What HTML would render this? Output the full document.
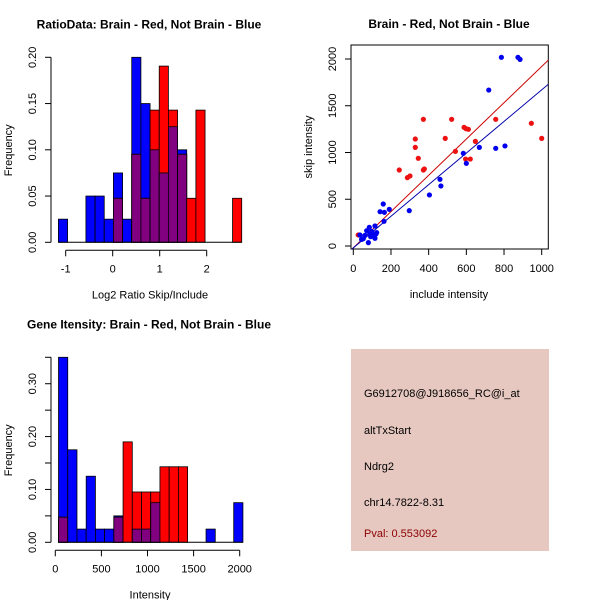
<!DOCTYPE html>
<html><head><meta charset="utf-8"><style>
body{margin:0;background:#fff}
svg{display:block;font-family:"Liberation Sans",sans-serif}
</style></head><body>
<svg id="s" width="600" height="600" xmlns="http://www.w3.org/2000/svg">
<rect width="600" height="600" fill="#fff"/>
<g id="p1"></g>
<g id="p2"></g>
<g id="p3"></g>
<g>
<rect x="351" y="349" width="198" height="202" fill="#E6C8C0"/>
<text x="364" y="397" font-size="11">G6912708@J918656_RC@i_at</text>
<text x="364" y="434" font-size="11">altTxStart</text>
<text x="364" y="470" font-size="11">Ndrg2</text>
<text x="364" y="506" font-size="11">chr14.7822-8.31</text>
<text x="364" y="537" font-size="11" fill="#8B0000">Pval: 0.553092</text>
</g>
</svg>
<script>
// Ratio histogram data
const ratioBreakStart = -1.155, ratioBinWidth = 0.195;
const ratioBlue = [0.025,0,0,0.05,0.05,0.025,0.075,0.025,0.2,0.15,0.1,0.075,0.125,0.1,0,0,0,0,0,0];
const ratioRed  = [0,0,0,0,0,0,0.0476,0,0.0952,0.0476,0.1429,0.1905,0.1429,0.0952,0.0476,0.1429,0,0,0,0.0476];
const ratioXTicks = [-1,0,1,2];
const ratioYTicks = [0,0.05,0.10,0.15,0.20];
const ratioYLabels = ["0.00","0.05","0.10","0.15","0.20"];
// Intensity histogram data
const intBreakStart = 35, intBinWidth = 100;
const intBlue = [0.35,0.175,0.025,0.125,0.025,0.025,0.05,0,0.025,0.025,0.075,0,0,0,0,0,0.025,0,0,0.075];
const intRed  = [0.0476,0,0,0,0,0,0.0476,0.19,0.0952,0.0952,0.0952,0.1429,0.1429,0.1429,0,0,0,0,0,0];
const intXTicks = [0,500,1000,1500,2000];
const intYTicks = [0,0.05,0.1,0.15,0.2,0.25,0.3,0.35];
const intYLabels = ["0.00","","0.10","","0.20","","0.30",""];
// Scatter data
const redX = [26,244,287,301,329,329,345,372,372,377,488,522,542,588,598,611,596,621,648,756,945,1000];
const redY = [118,813,731,749,1144,1055,938,1355,813,824,1151,1355,1012,1269,1255,1248,930,930,1119,1355,1312,1151];
const blueX = [786,874,885,719,584,600,669,756,805,460,465,404,297,159,142,165,191,163,85,115,62,71,88,103,120,124,44,80,115,35,53,92,97];
const blueY = [2018,2018,1996,1668,991,884,1055,1045,1070,713,642,546,378,449,367,360,392,264,200,214,114,164,135,121,128,143,71,36,82,118,78,100,157];
const redFit = [-20, 1.94];
const blueFit = [-20, 1.69];
const scXTicks = [0,200,400,600,800,1000];
const scYTicks = [0,500,1000,1500,2000];

const NS="http://www.w3.org/2000/svg";
function mk(parent,tag,attrs,text){const e=document.createElementNS(NS,tag);for(const k in attrs)e.setAttribute(k,attrs[k]);if(text!==undefined)e.textContent=text;parent.appendChild(e);return e;}

function hist(g,o){
  const sx=v=>o.x0px+(v-o.x0v)*o.xs, sy=v=>o.y0px-v*o.ys;
  const n=o.blue.length;
  for(let i=0;i<n;i++){
    const a=sx(o.bs+i*o.bw), b=sx(o.bs+(i+1)*o.bw);
    const bv=o.blue[i], rv=o.red[i], m=Math.min(bv,rv);
    if(bv>0){const r=mk(g,'rect',{x:a,y:sy(bv),width:b-a,height:sy(0)-sy(bv),fill:'#0000FF',stroke:'#000','stroke-width':0.8});
      
      }
    if(rv>0){const r=mk(g,'rect',{x:a,y:sy(rv),width:b-a,height:sy(0)-sy(rv),fill:'#FF0000',stroke:'#000','stroke-width':0.8});
      
      }
    if(m>0){const r=mk(g,'rect',{x:a,y:sy(m),width:b-a,height:sy(0)-sy(m),fill:'#800080',stroke:'#000','stroke-width':0.8});
      
      }
  }
  mk(g,'line',{x1:sx(o.bs),x2:sx(o.bs+n*o.bw),y1:sy(0),y2:sy(0),stroke:'#000'});
  // x axis
  const ax=o.y0px+8;
  mk(g,'line',{x1:sx(o.xt[0]),x2:sx(o.xt[o.xt.length-1]),y1:ax,y2:ax,stroke:'#000'});
  o.xt.forEach(t=>{mk(g,'line',{x1:sx(t),x2:sx(t),y1:ax,y2:ax+6,stroke:'#000'});
    const tl=mk(g,'text',{x:sx(t),y:ax+22,'font-size':11,'text-anchor':'middle'},String(t));
    
    });
  // y axis
  mk(g,'line',{x1:51,x2:51,y1:sy(o.yt[0]),y2:sy(o.yt[o.yt.length-1]),stroke:'#000'});
  o.yt.forEach((t,i)=>{mk(g,'line',{x1:45,x2:51,y1:sy(t),y2:sy(t),stroke:'#000'});
    if(o.yl[i]){const tl=mk(g,'text',{x:0,y:0,'font-size':11,'text-anchor':'middle',transform:`translate(36,${sy(t)}) rotate(-90)`},o.yl[i]);
      
      }});
  const yt=mk(g,'text',{x:0,y:0,'font-size':11,'text-anchor':'middle',transform:`translate(12,${o.y0px-92}) rotate(-90)`},'Frequency');
  
  
  const xt=mk(g,'text',{x:150,y:o.y0px+56,'font-size':11,'text-anchor':'middle'},o.xlab);
  
  
  const tt=mk(g,'text',{x:149,y:o.y0px-214,'font-size':12,'font-weight':'bold','text-anchor':'middle'},o.title);
  
  
}
hist(document.getElementById('p1'),{blue:ratioBlue,red:ratioRed,bs:ratioBreakStart,bw:ratioBinWidth,x0v:0,x0px:112.7,xs:47,y0px:242.3,ys:925,xt:ratioXTicks,yt:ratioYTicks,yl:ratioYLabels,xlab:'Log2 Ratio Skip/Include',title:'RatioData: Brain - Red, Not Brain - Blue'});
hist(document.getElementById('p3'),{blue:intBlue,red:intRed,bs:intBreakStart,bw:intBinWidth,x0v:0,x0px:55.3,xs:0.0922,y0px:542.3,ys:528.6,xt:intXTicks,yt:intYTicks,yl:intYLabels,xlab:'Intensity',title:'Gene Itensity: Brain - Red, Not Brain - Blue'});

// scatter
(function(){
  const g=document.getElementById('p2');
  const sx=v=>353.3+v*0.1884, sy=v=>246-v*0.0935;
  mk(g,'rect',{x:351,y:45,width:197.3,height:204,fill:'none',stroke:'#000'});
  const c=mk(g,'clipPath',{id:'clip'});mk(c,'rect',{x:351,y:45,width:197.3,height:204});
  const lg=mk(g,'g',{'clip-path':'url(#clip)'});
  const fl=(f,col,n)=>{const x1=-20,x2=1040;const l=mk(lg,'line',{x1:sx(x1),y1:sy(f[0]+f[1]*x1),x2:sx(x2),y2:sy(f[0]+f[1]*x2),stroke:col,'stroke-width':1});
    
    };
  fl(redFit,'#CC0000','red-fit-line');fl(blueFit,'#0000AA','blue-fit-line');
  redX.forEach((x,i)=>{const p=mk(g,'circle',{cx:sx(x),cy:sy(redY[i]),r:2.6,fill:'#EE1111'});
    
    });
  blueX.forEach((x,i)=>{const p=mk(g,'circle',{cx:sx(x),cy:sy(blueY[i]),r:2.6,fill:'#0000EE'});
    
    });
  scXTicks.forEach(t=>{mk(g,'line',{x1:sx(t),x2:sx(t),y1:249,y2:255,stroke:'#000'});
    const tl=mk(g,'text',{x:sx(t),y:272,'font-size':11,'text-anchor':'middle'},String(t));
    
    });
  scYTicks.forEach(t=>{mk(g,'line',{x1:345,x2:351,y1:sy(t),y2:sy(t),stroke:'#000'});
    const tl=mk(g,'text',{x:0,y:0,'font-size':11,'text-anchor':'middle',transform:`translate(336,${sy(t)}) rotate(-90)`},String(t));
    
    });
  const xt=mk(g,'text',{x:449,y:298,'font-size':11,'text-anchor':'middle'},'include intensity');
  
  
  const yt=mk(g,'text',{x:0,y:0,'font-size':11,'text-anchor':'middle',transform:'translate(312,147) rotate(-90)'},'skip intensity');
  
  
  const tt=mk(g,'text',{x:449,y:28,'font-size':12,'font-weight':'bold','text-anchor':'middle'},'Brain - Red, Not Brain - Blue');
  
  
})();
</script>
</body></html>
